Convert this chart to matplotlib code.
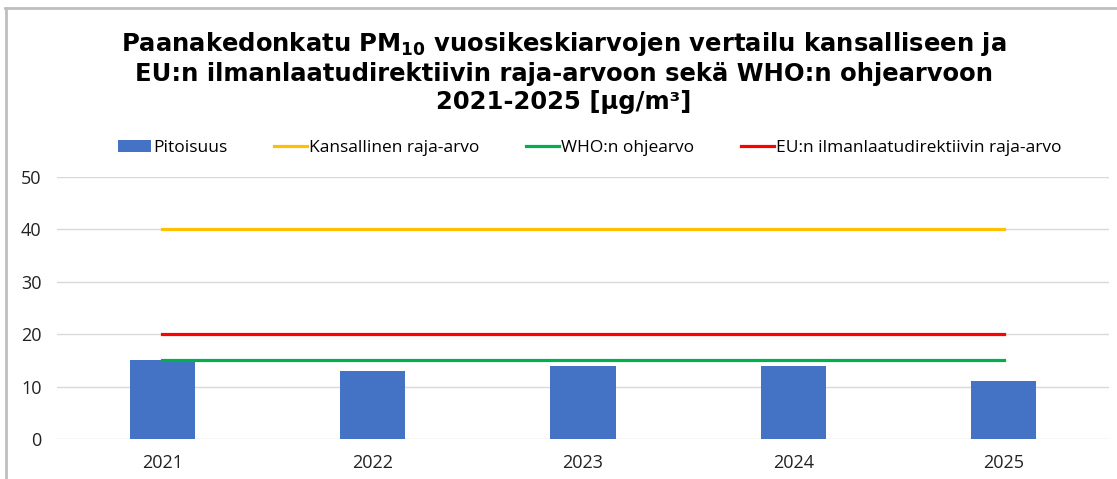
import numpy as np
import matplotlib.pyplot as plt
from matplotlib.lines import Line2D

# data
years = ['2021', '2022', '2023', '2024', '2025']
pitoisuus = [15, 13, 14, 14, 11]
kansallinen = [40, 40, 40, 40, 40]
who = [15, 15, 15, 15, 15]
eu = [20, 20, 20, 20, 20]

plt.rcParams['font.family'] = ['Open Sans', 'DejaVu Sans']
plt.rcParams['mathtext.fontset'] = 'dejavusans'

fig = plt.figure(figsize=(11.17, 4.79), dpi=100)
ax = fig.add_axes([57/1117, 1 - 439/479, (1109-57)/1117, (439-177)/479])

x = np.arange(len(years))
b = ax.bar(x, pitoisuus, width=0.31, color='#4472C4', label='Pitoisuus', zorder=2)
l1, = ax.plot(x, kansallinen, color='#FFC000', lw=2.3, label='Kansallinen raja-arvo', zorder=3)
l2, = ax.plot(x, who, color='#00B050', lw=2.3, label='WHO:n ohjearvo', zorder=3)
l3, = ax.plot(x, eu, color='#FF0000', lw=2.3, label='EU:n ilmanlaatudirektiivin raja-arvo', zorder=3)

ax.set_xlim(-0.5, 4.5)
ax.set_ylim(0, 50)
ax.set_yticks([0, 10, 20, 30, 40, 50])
ax.set_xticks(x)
ax.set_xticklabels(years)
ax.grid(axis='y', color='#D9D9D9', lw=1, zorder=0)
for s in ax.spines.values():
    s.set_visible(False)
ax.tick_params(length=0, labelsize=13, colors='#222222', pad=11)
ax.tick_params(axis='y', pad=11)

fig.legend([b, l1, l2, l3], [h.get_label() for h in (b, l1, l2, l3)],
           loc='center', bbox_to_anchor=(0.528, 1 - 148/479), ncol=4, frameon=False,
           fontsize=12.5, handlelength=1.9, handletextpad=0.1, columnspacing=2.7)

fig.text(0.505, 1 - 72/479,
         'Paanakedonkatu PM$_{\\mathbf{10}}$ vuosikeskiarvojen vertailu kansalliseen ja\n'
         'EU:n ilmanlaatudirektiivin raja-arvoon sekä WHO:n ohjearvoon\n'
         '2021-2025 [µg/m³]',
         ha='center', va='center', fontsize=17.5, fontweight='bold',
         family='DejaVu Sans', linespacing=1.2)

# screenshot frame
fig.add_artist(Line2D([5/1117, 1], [1 - 8/479, 1 - 8/479], color='#BFBFBF', lw=2))
fig.add_artist(Line2D([6/1117, 6/1117], [0, 1 - 8/479], color='#BFBFBF', lw=2))

fig.savefig('out.png', dpi=100)
